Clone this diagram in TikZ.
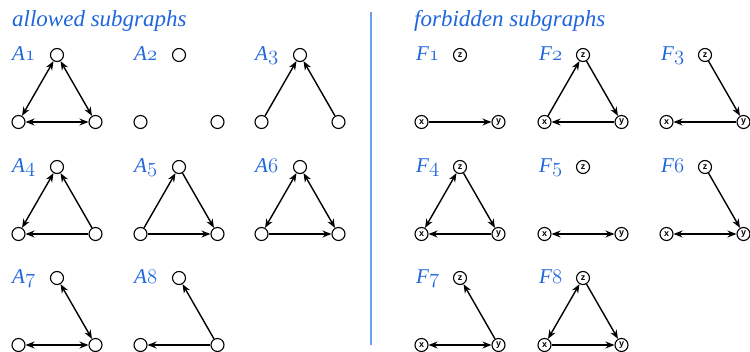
\documentclass[tikz,border=0pt]{standalone}
\usepackage{fontspec}
\setmainfont{Liberation Serif}
\setsansfont{Liberation Sans}
\usetikzlibrary{arrows.meta}

\definecolor{labelblue}{RGB}{31,102,221}
\definecolor{ruleblue}{RGB}{110,158,240}

\tikzset{
  vtx/.style={circle, draw, line width=1.1pt, minimum size=13pt, inner sep=0pt,
    font=\sffamily\bfseries\fontsize{9}{9}\selectfont},
  grlabel/.style={anchor=base west, inner sep=0pt, text=labelblue,
    font=\itshape\fontsize{21}{21}\selectfont},
  heading/.style={anchor=base west, inner sep=0pt, text=labelblue,
    font=\itshape\fontsize{23}{23}\selectfont},
  arr/.style={line width=1.4pt, -{Stealth[length=9pt,width=7pt,inset=3pt]}},
  barr/.style={line width=1.4pt,
    {Stealth[length=9pt,width=7pt,inset=3pt]}-{Stealth[length=9pt,width=7pt,inset=3pt]}},
  sepline/.style={draw=ruleblue, line width=1.6pt}
}

\begin{document}
\begin{tikzpicture}[x=1pt,y=-1pt]
\useasboundingbox (0,0) rectangle (750,352);

% headings and the rule between them
\node[heading] (allowed) at (12,27) {allowed subgraphs};
\node[heading] (forbidden) at (414,27) {forbidden subgraphs};
\draw[sepline] (371,12) -- (371,345);

% allowed: empty vertices
\foreach \n/\cx/\cy in {1/57/55,2/179/55,3/300/55,4/57/167,5/179/167,6/300/167,7/57/278,8/179/278}{
  \node[vtx] (a\n z) at (\cx,\cy) {};
  \node[vtx] (a\n x) at (\cx-38.5,\cy+67) {};
  \node[vtx] (a\n y) at (\cx+38.5,\cy+67) {};
  \node[grlabel] (a\n lbl) at (\cx-45,\cy+6) {A$\mathnormal{\n}$};
}

% forbidden: vertices x, y, z
\foreach \n/\cx/\cy in {1/460/55,2/583/55,3/705/55,4/460/167,5/583/167,6/705/167,7/460/278,8/583/278}{
  \node[vtx] (f\n z) at (\cx,\cy) {z};
  \node[vtx] (f\n x) at (\cx-38.5,\cy+67) {x};
  \node[vtx] (f\n y) at (\cx+38.5,\cy+67) {y};
  \node[grlabel] (f\n lbl) at (\cx-44,\cy+6) {F$\mathnormal{\n}$};
}

% allowed edges
\draw[barr] (a1x) -- (a1z); \draw[barr] (a1z) -- (a1y); \draw[barr] (a1x) -- (a1y);
\draw[arr] (a3x) -- (a3z); \draw[arr] (a3y) -- (a3z);
\draw[barr] (a4x) -- (a4z); \draw[arr] (a4y) -- (a4z); \draw[arr] (a4y) -- (a4x);
\draw[arr] (a5x) -- (a5z); \draw[arr] (a5z) -- (a5y); \draw[arr] (a5x) -- (a5y);
\draw[barr] (a6x) -- (a6z); \draw[barr] (a6z) -- (a6y); \draw[arr] (a6x) -- (a6y);
\draw[barr] (a7z) -- (a7y); \draw[barr] (a7x) -- (a7y);
\draw[arr] (a8y) -- (a8z); \draw[arr] (a8y) -- (a8x);

% forbidden edges
\draw[arr] (f1x) -- (f1y);
\draw[arr] (f2x) -- (f2z); \draw[arr] (f2z) -- (f2y); \draw[arr] (f2y) -- (f2x);
\draw[arr] (f3z) -- (f3y); \draw[arr] (f3y) -- (f3x);
\draw[barr] (f4x) -- (f4z); \draw[arr] (f4z) -- (f4y); \draw[arr] (f4y) -- (f4x);
\draw[barr] (f5x) -- (f5y);
\draw[arr] (f6z) -- (f6y); \draw[barr] (f6x) -- (f6y);
\draw[arr] (f7y) -- (f7z); \draw[barr] (f7x) -- (f7y);
\draw[barr] (f8x) -- (f8z); \draw[arr] (f8z) -- (f8y); \draw[arr] (f8x) -- (f8y);
\end{tikzpicture}
\end{document}
